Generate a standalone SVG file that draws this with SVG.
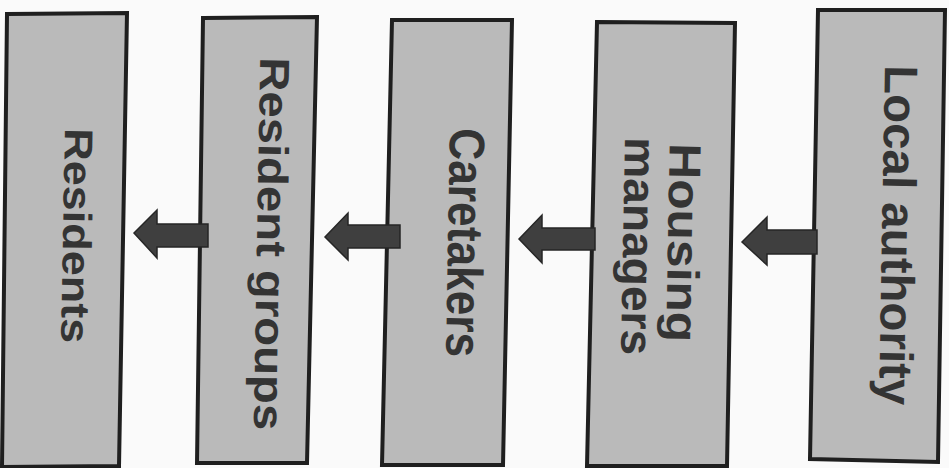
<svg xmlns="http://www.w3.org/2000/svg" width="949" height="468" viewBox="0 0 949 468">
<style>
.bg{fill:#fafafa}
.box{fill:#bababa;stroke:#1f1f1f;stroke-width:4;stroke-linejoin:miter}
.lbl{font-family:"Liberation Sans",Arial,Helvetica,sans-serif;font-weight:bold;fill:#343434;text-anchor:middle}
.arr{fill:#3f3f3f;stroke:#262626;stroke-width:1.5;stroke-linejoin:miter}
</style>
<rect class="bg" x="0" y="0" width="949" height="468"/>
<g id="residents">
<polygon class="box" points="7,14 127,13 119,466 2,467"/>
<text class="lbl" font-size="40" textLength="215" lengthAdjust="spacingAndGlyphs" transform="translate(63,235.5) rotate(91)">Residents</text>
</g>
<g id="resident-groups">
<polygon class="box" points="203,18 317,17 307,463 197,463"/>
<text class="lbl" font-size="42" textLength="373" lengthAdjust="spacingAndGlyphs" transform="translate(257,243.5) rotate(91)">Resident groups</text>
</g>
<g id="caretakers">
<polygon class="box" points="392,20 512,20 503,465 382,465"/>
<text class="lbl" font-size="50" textLength="229" lengthAdjust="spacingAndGlyphs" transform="translate(448,242.5) rotate(91)">Caretakers</text>
</g>
<g id="housing-managers">
<polygon class="box" points="597,22 735,23 727,466 587,466"/>
<text class="lbl" font-size="45" textLength="199" lengthAdjust="spacingAndGlyphs" transform="translate(668,242.5) rotate(91)">Housing</text>
<text class="lbl" font-size="45" textLength="218" lengthAdjust="spacingAndGlyphs" transform="translate(623,246) rotate(91)">managers</text>
</g>
<g id="local-authority">
<polygon class="box" points="818,10 945,10 938,462 810,459"/>
<text class="lbl" font-size="47" textLength="340" lengthAdjust="spacingAndGlyphs" transform="translate(882,235) rotate(91)">Local authority</text>
</g>
<g id="connectors">
<polygon class="arr" points="134,233 157,210 157,224 208,224 208,247 157,247 157,258"/>
<polygon class="arr" points="325,237 348,213 348,225 400,225 400,248 348,248 348,260"/>
<polygon class="arr" points="519,239 542,215 542,228 595,228 595,250 542,250 542,263"/>
<polygon class="arr" points="742,242 767,217 767,230 817,230 817,254 767,254 767,265"/>
</g>
</svg>
